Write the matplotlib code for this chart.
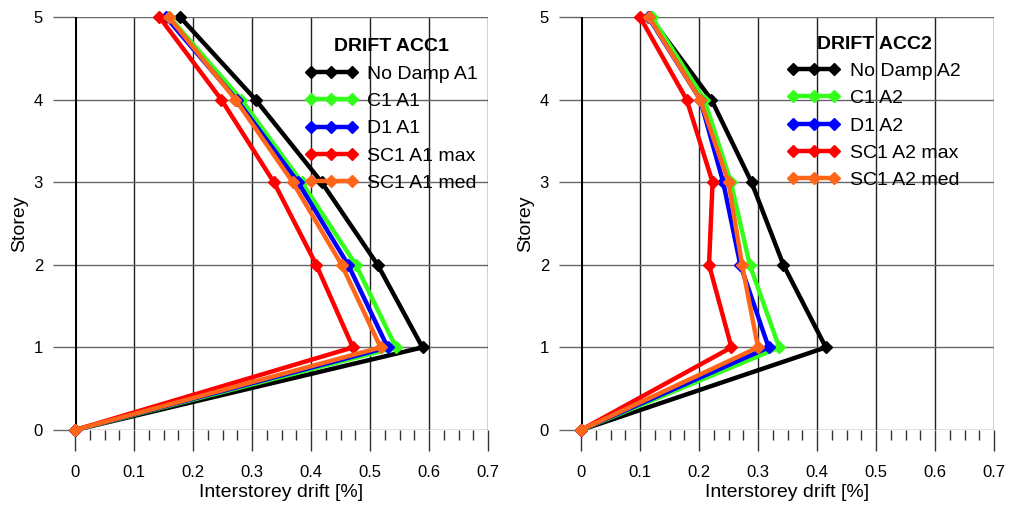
import matplotlib
matplotlib.use('Agg')
import matplotlib.pyplot as plt
from matplotlib.ticker import MultipleLocator

plt.rcParams['font.family'] = ['Liberation Sans', 'DejaVu Sans']

storeys = [0, 1, 2, 3, 4, 5]

# ACC1 drifts [%] at storey 0..5
nodamp_a1 = [0, 0.589, 0.513, 0.418, 0.306, 0.178]
c1_a1 = [0, 0.544, 0.476, 0.384, 0.282, 0.160]
d1_a1 = [0, 0.530, 0.463, 0.378, 0.274, 0.154]
sc1max_a1 = [0, 0.471, 0.409, 0.337, 0.248, 0.143]
sc1med_a1 = [0, 0.518, 0.452, 0.369, 0.272, 0.159]

# ACC2 drifts [%] at storey 0..5
nodamp_a2 = [0, 0.415, 0.343, 0.289, 0.221, 0.117]
c1_a2 = [0, 0.336, 0.286, 0.254, 0.209, 0.120]
d1_a2 = [0, 0.318, 0.270, 0.241, 0.202, 0.114]
sc1max_a2 = [0, 0.255, 0.217, 0.223, 0.179, 0.100]
sc1med_a2 = [0, 0.300, 0.273, 0.250, 0.202, 0.115]

labels_a1 = ['No Damp A1', 'C1 A1', 'D1 A1', 'SC1 A1 max', 'SC1 A1 med']
labels_a2 = ['No Damp A2', 'C1 A2', 'D1 A2', 'SC1 A2 max', 'SC1 A2 med']
colors = ['#000000', '#33ff1a', '#0000ff', '#ff0000', '#ff6619']
xticks = [0, 0.1, 0.2, 0.3, 0.4, 0.5, 0.6, 0.7]
xticklabels = ['0', '0.1', '0.2', '0.3', '0.4', '0.5', '0.6', '0.7']

fig = plt.figure(figsize=(10.09, 5.09), dpi=100)
ax1 = fig.add_axes([75 / 1009, 79 / 509, 413 / 1009, 413 / 509])
ax2 = fig.add_axes([581 / 1009, 79 / 509, 413 / 1009, 413 / 509])

panels = [
    (ax1, [nodamp_a1, c1_a1, d1_a1, sc1max_a1, sc1med_a1], labels_a1, 'DRIFT ACC1', (0.557, 0.948)),
    (ax2, [nodamp_a2, c1_a2, d1_a2, sc1max_a2, sc1med_a2], labels_a2, 'DRIFT ACC2', (0.500, 0.955)),
]

for ax, series, labels, title, anchor in panels:
    ax.set_xlim(0, 0.7)
    ax.set_ylim(0, 5)
    for s in ax.spines.values():
        s.set_visible(False)
    ax.set_xticks(xticks)
    ax.set_xticklabels(xticklabels)
    ax.xaxis.set_minor_locator(MultipleLocator(0.025))
    ax.yaxis.set_major_locator(MultipleLocator(1))
    ax.grid(axis='x', color='#222222', lw=1.0)
    ax.grid(axis='y', color='#666666', lw=1.0)
    ax.set_axisbelow(True)
    ax.axvline(0, color='black', lw=2.2, zorder=1.5)
    ax.tick_params(axis='x', which='major', length=15, width=1.0, color='#333333',
                   direction='out', pad=10, labelsize=12)
    ax.tick_params(axis='x', which='minor', length=7, width=1.0, color='#333333', direction='out')
    ax.tick_params(axis='y', length=16, width=1.0, color='#666666', direction='out',
                   pad=7, labelsize=12)
    ax.set_xlabel('Interstorey drift [%]', fontsize=14, labelpad=3)
    ax.set_ylabel('Storey', fontsize=14, labelpad=4)

    for vals, lab, c in zip(series, labels, colors):
        ax.plot(vals, storeys, color=c, lw=3.2, marker='D', ms=6.5, label=lab, clip_on=False)

    leg = ax.legend(loc='upper left', bbox_to_anchor=anchor, frameon=False, fontsize=14,
                    title=title, title_fontproperties={'weight': 'bold', 'size': 14},
                    numpoints=3, handlelength=2.7, handletextpad=0.5, labelspacing=0.5,
                    borderpad=0, borderaxespad=0)
    leg._legend_box.align = 'center'

fig.savefig('out.png', dpi=100)
